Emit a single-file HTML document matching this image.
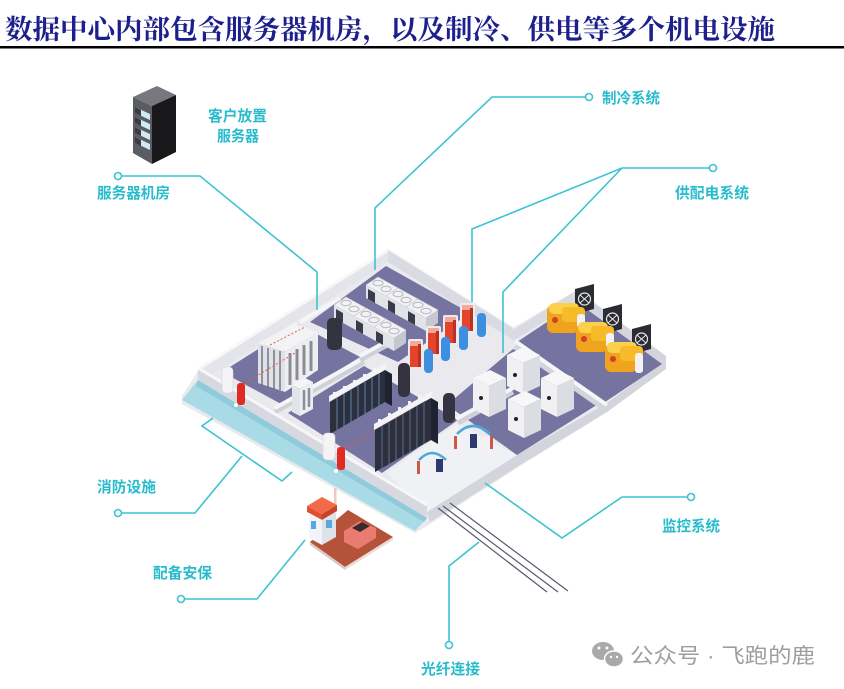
<!DOCTYPE html>
<html><head><meta charset="utf-8">
<style>
html,body{margin:0;padding:0;background:#fff;}
svg{display:block;}
.lb{font-family:"Liberation Sans","Noto Sans CJK SC",sans-serif;font-weight:bold;font-size:15px;fill:#27bccd;}
</style></head>
<body>
<svg width="844" height="689" viewBox="0 0 844 689" xmlns="http://www.w3.org/2000/svg">
<defs>
 <g id="cu">
  <polygon points="0,0 20,11 8,19 -12,8" fill="#f2f2f5" stroke="#c6c7d0" stroke-width="0.6"/>
  <ellipse cx="0" cy="6" rx="5" ry="2.8" fill="none" stroke="#b5b6c2" stroke-width="1"/>
  <ellipse cx="8" cy="12" rx="5" ry="2.8" fill="none" stroke="#b5b6c2" stroke-width="1"/>
  <polygon points="-12,8 8,19 8,32 -12,21" fill="#e2e3e9"/>
  <polygon points="-10,12 -3,16 -3,26 -10,22" fill="#3a3c4a"/>
  <polygon points="8,19 20,11 20,24 8,32" fill="#c6c7d0"/>
 </g>
 <g id="ups">
  <polygon points="0,8 17,0 33,8 16,16" fill="#f7f7f9"/>
  <polygon points="0,8 16,16 16,47 0,39" fill="#f1f1f4"/>
  <polygon points="16,16 33,8 33,39 16,47" fill="#dcdce3"/>
  <circle cx="8" cy="28" r="2" fill="#222"/>
 </g>
 <g id="gen">
  <rect x="0" y="6" width="32" height="28" rx="6" fill="#f0a31c"/>
  <rect x="2" y="4" width="30" height="11" rx="5" fill="#fbd04a"/>
  <rect x="15" y="8" width="23" height="15" rx="4" fill="#f7bb2a"/>
  <circle cx="8" cy="21" r="3" fill="#d2422a"/>
  <rect x="30" y="15" width="8" height="20" rx="3" fill="#f3f3f5"/>
 </g>
 <g id="fan">
  <polygon points="0,5 19,0 19,25 0,30" fill="#2a2b33"/>
  <circle cx="9.5" cy="15" r="6" fill="none" stroke="#e8e8ec" stroke-width="1.2"/>
  <line x1="5" y1="11" x2="14" y2="19" stroke="#e8e8ec" stroke-width="1"/>
  <line x1="14" y1="11" x2="5" y2="19" stroke="#e8e8ec" stroke-width="1"/>
 </g>
 <g id="red">
  <rect x="-2" y="-2" width="15" height="30" rx="2" fill="#ececf0"/>
  <rect x="0" y="3" width="11" height="23" fill="#e5432c"/>
  <rect x="0" y="0" width="11" height="5" fill="#f4a898"/>
  <rect x="8" y="3" width="3" height="23" fill="#b93220"/>
 </g>
</defs>

<!-- Title -->
<text x="5" y="39" font-family="'Liberation Serif','Noto Serif CJK SC',serif" font-weight="bold" font-size="27" fill="#1c1f8c" textLength="770" lengthAdjust="spacingAndGlyphs">数据中心内部包含服务器机房，以及制冷、供电等多个机电设施</text>
<rect x="0" y="46" width="844" height="2.5" fill="#000"/>

<!-- Server icon -->
<polygon points="133,97 157,86 176,95 152,106" fill="#77777d"/>
<polygon points="133,97 152,106 152,164 133,153" fill="#5c5d63"/>
<polygon points="152,106 176,95 176,152 152,164" fill="#18181b"/>
<g fill="#cfe9f5">
 <polygon points="135,107 150,114 150,120 135,113"/>
 <polygon points="135,117 150,124 150,130 135,123"/>
 <polygon points="135,127 150,134 150,140 135,133"/>
 <polygon points="135,137 150,144 150,150 135,143"/>
</g>
<g fill="#3b3c42">
 <polygon points="135,107 141,110 141,116 135,113"/>
 <polygon points="135,117 141,120 141,126 135,123"/>
 <polygon points="135,127 141,130 141,136 135,133"/>
 <polygon points="135,137 141,140 141,146 135,143"/>
</g>

<!-- ===== Building ===== -->
<polygon points="182,396 200,368 388,250 513,328 577,290 666,356 666,368 607,412 520,466 430,524 415,533 182,404" fill="#e9e9ee"/>
<polygon points="427,512 517,455 607,403 666,360 666,369 607,412 520,465 430,522" fill="#d3d4dc"/>
<polygon points="387,473 457,423 517,455 427,512" fill="#f0f1f4"/>

<polygon points="200,368 388,250 388,262 204,380" fill="#e4e5ea"/>
<polyline points="200,368 388,250 513,328" fill="none" stroke="#f8f8fa" stroke-width="3"/>
<polygon points="388,250 513,328 513,340 388,262" fill="#dadbe2"/>
<polygon points="513,330 577,290 577,301 513,341" fill="#dadbe2"/>
<polygon points="577,290 666,356 666,367 577,301" fill="#d3d4dc"/>

<g fill="#75739f">
 <polygon points="310,322 386,266 470,313 398,362"/>
 <polygon points="222,372 298,324 360,357 283,405"/>
 <polygon points="288,413 364,366 458,420 382,473"/>
 <polygon points="447,405 513,349 603,401 517,455"/>
 <polygon points="517,342 577,302 662,364 605,402"/>
</g>

<g stroke-linecap="butt">
 <line x1="275" y1="412" x2="364" y2="362" stroke="#cfd0d8" stroke-width="5"/>
 <line x1="275" y1="408" x2="364" y2="358" stroke="#f6f6f8" stroke-width="4"/>
 <line x1="360" y1="360" x2="400" y2="338" stroke="#cfd0d8" stroke-width="5"/>
 <line x1="360" y1="356" x2="400" y2="334" stroke="#f6f6f8" stroke-width="4"/>
 <line x1="458" y1="423" x2="513" y2="392" stroke="#cfd0d8" stroke-width="5"/>
 <line x1="456" y1="419" x2="513" y2="388" stroke="#f6f6f8" stroke-width="4"/>
 <line x1="515" y1="346" x2="607" y2="410" stroke="#d3d4dc" stroke-width="6"/>
 <line x1="515" y1="341" x2="607" y2="405" stroke="#f6f6f8" stroke-width="4"/>
 <line x1="300" y1="322" x2="340" y2="298" stroke="#f6f6f8" stroke-width="4"/>
</g>

<polygon points="182,400 198,380 427,518 415,531" fill="#a9dbe7"/>
<polygon points="198,380 427,518 424,522 196,386" fill="#8fcbdb"/>
<polygon points="198,368 427,505 427,518 198,380" fill="#d7d8e0"/>
<line x1="198" y1="368" x2="427" y2="505" stroke="#f7f7f9" stroke-width="3"/>

<use href="#cu" x="378" y="277"/>
<use href="#cu" x="398" y="288"/>
<use href="#cu" x="418" y="299"/>
<use href="#cu" x="346" y="297"/>
<use href="#cu" x="366" y="308"/>
<use href="#cu" x="386" y="319"/>

<use href="#red" x="462" y="305"/>
<rect x="477" y="313" width="9" height="24" rx="4" fill="#3d8fe0"/>
<use href="#red" x="445" y="317"/>
<rect x="459" y="326" width="9" height="24" rx="4" fill="#3d8fe0"/>
<use href="#red" x="428" y="328"/>
<rect x="441" y="337" width="9" height="24" rx="4" fill="#3d8fe0"/>
<use href="#red" x="410" y="341"/>
<rect x="424" y="349" width="9" height="24" rx="4" fill="#3d8fe0"/>

<rect x="327" y="318" width="15" height="32" rx="5" fill="#33343f"/>
<rect x="398" y="363" width="12" height="34" rx="5" fill="#33343f"/>
<rect x="443" y="393" width="12" height="30" rx="5" fill="#33343f"/>

<polygon points="258,343 295,323 318,333 285,352" fill="#f3f3f6"/>
<polygon points="258,343 285,352 285,392 258,383" fill="#e1e2e8"/>
<g stroke="#5a5c68" stroke-width="1.2">
 <line x1="262" y1="346" x2="262" y2="385"/>
 <line x1="268" y1="348" x2="268" y2="387"/>
 <line x1="274" y1="350" x2="274" y2="389"/>
 <line x1="280" y1="351" x2="280" y2="390"/>
</g>
<polygon points="285,352 318,333 318,370 285,392" fill="#eeeef2"/>
<g stroke="#8a8c98" stroke-width="3">
 <line x1="290" y1="353" x2="290" y2="385"/>
 <line x1="297" y1="349" x2="297" y2="380"/>
 <line x1="304" y1="345" x2="304" y2="375"/>
 <line x1="311" y1="341" x2="311" y2="371"/>
</g>
<polygon points="292,385 305,378 313,382 300,389" fill="#f5f5f7"/>
<polygon points="292,385 300,389 300,416 292,412" fill="#e3e4ea"/>
<polygon points="300,389 313,382 313,409 300,416" fill="#eeeef2"/>
<g stroke="#8a8c98" stroke-width="2.5">
 <line x1="304" y1="390" x2="304" y2="410"/>
 <line x1="309" y1="388" x2="309" y2="407"/>
</g>

<g stroke="#e0604e" stroke-width="1" stroke-dasharray="2,2" fill="none">
 <line x1="245" y1="383" x2="300" y2="350"/>
 <line x1="345" y1="448" x2="410" y2="410"/>
 <line x1="270" y1="345" x2="305" y2="327"/>
</g>

<polygon points="329,396 386,363 386,369 329,402" fill="#f4f4f7"/>
<polygon points="330,402 385,370 385,402 330,434" fill="#2c2f3d"/>
<polygon points="385,370 392,374 392,406 385,402" fill="#1f2230"/>
<g stroke="#5f83a6" stroke-width="1">
 <line x1="337" y1="398" x2="337" y2="430"/>
 <line x1="344" y1="394" x2="344" y2="426"/>
 <line x1="351" y1="390" x2="351" y2="422"/>
 <line x1="358" y1="386" x2="358" y2="418"/>
 <line x1="365" y1="382" x2="365" y2="414"/>
 <line x1="372" y1="378" x2="372" y2="410"/>
 <line x1="379" y1="374" x2="379" y2="406"/>
</g>
<polygon points="374,424 432,391 432,397 374,430" fill="#f4f4f7"/>
<polygon points="375,430 431,398 431,440 375,472" fill="#2c2f3d"/>
<polygon points="431,398 438,402 438,444 431,440" fill="#1f2230"/>
<g stroke="#5f6f86" stroke-width="1">
 <line x1="382" y1="426" x2="382" y2="468"/>
 <line x1="389" y1="422" x2="389" y2="464"/>
 <line x1="396" y1="418" x2="396" y2="460"/>
 <line x1="403" y1="414" x2="403" y2="456"/>
 <line x1="410" y1="410" x2="410" y2="452"/>
 <line x1="417" y1="406" x2="417" y2="448"/>
 <line x1="424" y1="402" x2="424" y2="444"/>
</g>
<g fill="#f4f4f7">
 <rect x="333" y="392" width="3" height="5"/><rect x="343" y="386" width="3" height="5"/><rect x="353" y="380" width="3" height="5"/><rect x="363" y="374" width="3" height="5"/><rect x="373" y="368" width="3" height="5"/>
 <rect x="378" y="419" width="3" height="5"/><rect x="388" y="413" width="3" height="5"/><rect x="398" y="407" width="3" height="5"/><rect x="408" y="401" width="3" height="5"/><rect x="418" y="395" width="3" height="5"/>
</g>

<rect x="222" y="367" width="11" height="26" rx="4" fill="#f4f4f7" stroke="#d4d5dc" stroke-width="0.6"/>
<rect x="323" y="433" width="12" height="27" rx="4" fill="#f4f4f7" stroke="#d4d5dc" stroke-width="0.6"/>
<rect x="237" y="383" width="8" height="22" rx="3" fill="#e12a22"/>
<rect x="337" y="447" width="8" height="23" rx="3" fill="#e12a22"/>
<circle cx="236" cy="405" r="2" fill="#fff"/>
<circle cx="336" cy="471" r="2" fill="#fff"/>

<use href="#ups" x="507" y="347"/>
<use href="#ups" x="473" y="370"/>
<use href="#ups" x="541" y="370"/>
<use href="#ups" x="508" y="391"/>

<use href="#fan" x="575" y="284"/>
<use href="#fan" x="603" y="304"/>
<use href="#fan" x="632" y="324"/>
<use href="#gen" x="547" y="299"/>
<use href="#gen" x="576" y="318"/>
<use href="#gen" x="605" y="338"/>

<g>
 <path d="M457,434 Q473,418 490,434" fill="none" stroke="#49a9dc" stroke-width="2.5"/>
 <rect x="454" y="436" width="9" height="13" fill="#f2f2f4"/><rect x="454" y="436" width="3" height="13" fill="#c95a4a"/>
 <rect x="484" y="436" width="9" height="13" fill="#f2f2f4"/><rect x="490" y="436" width="3" height="13" fill="#c95a4a"/>
 <rect x="470" y="434" width="7" height="14" fill="#2c3a70"/>
 <path d="M419,460 Q432,446 446,460" fill="none" stroke="#49a9dc" stroke-width="2.5"/>
 <rect x="417" y="461" width="9" height="13" fill="#f2f2f4"/><rect x="417" y="461" width="3" height="13" fill="#c95a4a"/>
 <rect x="436" y="459" width="7" height="13" fill="#2c3a70"/>
</g>

<g stroke="#555a6a" stroke-width="1.2">
 <line x1="438" y1="508" x2="547" y2="592"/>
 <line x1="443" y1="506" x2="558" y2="592"/>
 <line x1="450" y1="503" x2="568" y2="591"/>
</g>

<polygon points="310,542 348,510 393,537 345,567" fill="#b4523a"/>
<polygon points="310,542 345,567 345,570 310,545" fill="#d9c9c4"/>
<polygon points="345,567 393,537 393,540 345,570" fill="#e8dcd8"/>
<rect x="334" y="488" width="2.5" height="24" fill="#f0c8c0"/>
<path d="M344,531 L360,521 L376,528 L376,538 L358,549 L344,542 Z" fill="#e87c70"/>
<path d="M352,528 L362,522 L370,526 L360,532 Z" fill="#3a2a30"/>
<polygon points="307,506 322,497 337,505 322,514" fill="#f26a48"/>
<polygon points="307,506 322,514 322,520 307,512" fill="#e05030"/>
<polygon points="322,514 337,505 337,511 322,520" fill="#c8432a"/>
<polygon points="309,513 322,520 322,545 309,538" fill="#f2f4f7"/>
<polygon points="322,520 336,512 336,537 322,545" fill="#dde2ea"/>
<rect x="311" y="521" width="5" height="8" fill="#5aa7e0"/>
<rect x="326" y="520" width="6" height="8" fill="#5aa7e0"/>

<g fill="none" stroke="#3cc3d3" stroke-width="1.6">
 <path d="M121.5,176 H200 L317,272 V310"/>
 <path d="M585.5,97 H492 L375,208 V270"/>
 <path d="M709.5,168 H622 L472,229 V302"/>
 <path d="M622,168 L503,292 V353"/>
 <path d="M121.5,513 H195 L242,456"/>
 <path d="M213,418 L202,426 L282,481 L292,472"/>
 <path d="M184.5,599 H257 L305,540"/>
 <path d="M449,641.5 V566 L479,542"/>
 <path d="M687.5,497 H622 L562,538 L485,483"/>
</g>
<g fill="#fff" stroke="#3cc3d3" stroke-width="1.6">
 <circle cx="118" cy="176" r="3.5"/>
 <circle cx="589" cy="97" r="3.5"/>
 <circle cx="713" cy="168" r="3.5"/>
 <circle cx="118" cy="513" r="3.5"/>
 <circle cx="181" cy="599" r="3.5"/>
 <circle cx="449" cy="645" r="3.5"/>
 <circle cx="691" cy="497" r="3.5"/>
</g>

<text class="lb" x="208" y="121" textLength="59" lengthAdjust="spacingAndGlyphs">客户放置</text>
<text class="lb" x="217" y="141" textLength="42" lengthAdjust="spacingAndGlyphs">服务器</text>
<text class="lb" x="97" y="198" textLength="73" lengthAdjust="spacingAndGlyphs">服务器机房</text>
<text class="lb" x="602" y="103" textLength="58" lengthAdjust="spacingAndGlyphs">制冷系统</text>
<text class="lb" x="675" y="198" textLength="74" lengthAdjust="spacingAndGlyphs">供配电系统</text>
<text class="lb" x="97" y="492" textLength="59" lengthAdjust="spacingAndGlyphs">消防设施</text>
<text class="lb" x="153" y="578" textLength="59" lengthAdjust="spacingAndGlyphs">配备安保</text>
<text class="lb" x="421" y="674" textLength="59" lengthAdjust="spacingAndGlyphs">光纤连接</text>
<text class="lb" x="662" y="531" textLength="58" lengthAdjust="spacingAndGlyphs">监控系统</text>

<ellipse cx="603" cy="651" rx="11" ry="9" fill="#a9a9a9"/>
<ellipse cx="614" cy="659" rx="9.5" ry="8" fill="#a9a9a9" stroke="#fff" stroke-width="1.5"/>
<circle cx="599" cy="648" r="1.5" fill="#fff"/><circle cx="607" cy="648" r="1.5" fill="#fff"/>
<circle cx="611" cy="657" r="1.2" fill="#fff"/><circle cx="617" cy="657" r="1.2" fill="#fff"/>
<text x="630" y="663" font-family="'Liberation Sans','Noto Sans CJK SC',sans-serif" font-size="21" fill="#9e9e9e" textLength="185" lengthAdjust="spacingAndGlyphs">公众号 · 飞跑的鹿</text>
</svg>
</body></html>
